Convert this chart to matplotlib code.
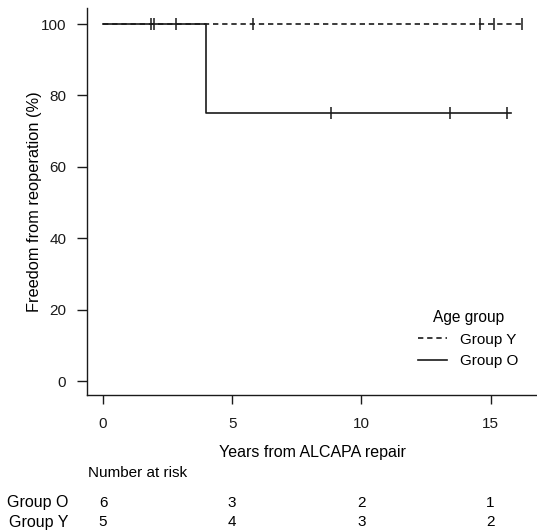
import matplotlib
matplotlib.use("Agg")
import matplotlib.pyplot as plt
import numpy as np

plt.rcParams["font.family"] = ["Liberation Sans", "DejaVu Sans"]
plt.rcParams["font.size"] = 11

# Kaplan-Meier step data (years, survival %)
group_y_times = [0.0, 16.2]
group_y_surv = [100, 100]
group_y_censor = [2.82, 5.81, 14.6, 15.15, 16.2]

group_o_times = [0.0, 4.0, 15.8]
group_o_surv = [100, 75, 75]
group_o_censor = [1.84, 1.99, 8.82, 13.44, 15.62]

risk_times = [0, 5, 10, 15]
risk_o = [6, 3, 2, 1]
risk_y = [5, 4, 3, 2]

x_ticks = [0, 5, 10, 15]
y_ticks = [0, 20, 40, 60, 80, 100]

ink = "#1a1a1a"
xlim = (-0.62, 16.8)

fig = plt.figure(figsize=(5.37, 5.32), dpi=100)
ax = fig.add_axes([87 / 537, 137 / 532, 1 - 87 / 537, 387 / 532])


def surv_at(times, surv, t):
    idx = np.searchsorted(times, t, side="right") - 1
    return surv[max(idx, 0)]


ax.step(group_y_times, group_y_surv, where="post", color=ink, lw=1.2, ls=(0, (3.2, 2.3)), label="Group Y")
ax.step(group_o_times, group_o_surv, where="post", color=ink, lw=1.2, label="Group O")
ax.plot(group_y_censor, [surv_at(group_y_times, group_y_surv, t) for t in group_y_censor],
        ls="none", marker="|", ms=8, mew=1.1, color=ink)
ax.plot(group_o_censor, [surv_at(group_o_times, group_o_surv, t) for t in group_o_censor],
        ls="none", marker="|", ms=8, mew=1.1, color=ink)

ax.set_xlim(*xlim)
ax.set_ylim(-3.9, 104.5)
ax.set_xticks(x_ticks)
ax.set_yticks(y_ticks)
for side in ("top", "right"):
    ax.spines[side].set_visible(False)
for side in ("left", "bottom"):
    ax.spines[side].set_color(ink)
    ax.spines[side].set_linewidth(1.0)
ax.tick_params(colors=ink, width=1.0, labelsize=11)
ax.tick_params(axis="y", length=7, pad=8)
ax.tick_params(axis="x", length=6.5, pad=9)
ax.set_ylabel("Freedom from reoperation (%)", fontsize=11.8)
ax.yaxis.set_label_coords(-0.10, 0.5)
ax.set_xlabel("Years from ALCAPA repair", fontsize=11.5)
ax.xaxis.set_label_coords(0.5, -0.129)

leg = ax.legend(title="Age group", loc="lower right", bbox_to_anchor=(0.99, 0.033), frameon=False,
                fontsize=11, title_fontsize=11.2, handlelength=1.85, handletextpad=0.9, labelspacing=0.5)

# number at risk table, sharing the x scale of the plot
tab = fig.add_axes([87 / 537, 0, 1 - 87 / 537, 137 / 532])
tab.set_xlim(*xlim)
tab.set_ylim(0, 137)
tab.axis("off")
tab.text(-0.58, 59, "Number at risk", ha="left", va="center", fontsize=11)
for label, counts, y in (("Group O", risk_o, 29), ("Group Y", risk_y, 10)):
    tab.text(-1.35, y, label, ha="right", va="center", fontsize=11.5, clip_on=False)
    for t, n in zip(risk_times, counts):
        tab.text(t, y, str(n), ha="center", va="center", fontsize=11)

fig.savefig("out.png", dpi=100)
